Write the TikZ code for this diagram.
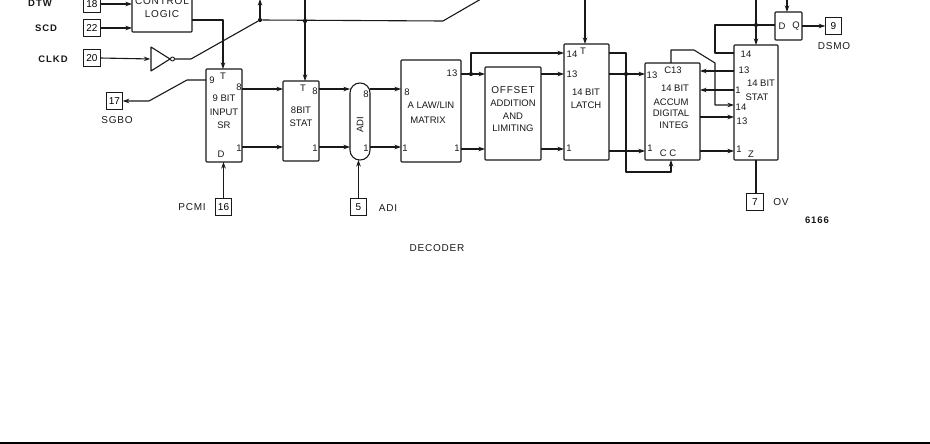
\documentclass[tikz,border=0pt]{standalone}
\usepackage{fontspec}
\setmainfont{Liberation Sans}
\usetikzlibrary{arrows.meta}
\newcounter{lc}
\newcommand{\lab}[4][lbl]{\stepcounter{lc}\node[#1] (t\arabic{lc}) at (#2,#3) {#4};}
\newcommand{\blk}[5]{\node[blockbox,minimum width=#4-#2,minimum height=#5-#3] (#1) at ({(#2+#4)/2},{(#3+#5)/2}) {};}
\newcommand{\pin}[4]{\node[pinbox] (#1) at (#2,#3) {#4};}
\tikzset{
  x=1pt,y=-1pt,
  blockbox/.style={draw=black!90,line width=1.1pt,inner sep=0pt,outer sep=0pt,rounded corners=0.8pt},
  pinbox/.style={draw=black!90,line width=1.2pt,inner sep=0pt,outer sep=0pt,minimum width=16.5pt,minimum height=16.5pt,font=\fontsize{10}{10}\selectfont},
  lbl/.style={inner sep=0pt,outer sep=0pt,text=black!90,font=\fontsize{9.5}{10}\selectfont},
  big/.style={lbl,font=\fontsize{10}{10}\selectfont\addfontfeature{LetterSpace=8}},
  bold/.style={lbl,font=\fontsize{9.5}{10}\selectfont\bfseries\addfontfeature{LetterSpace=10}},
  wire/.style={draw=black!90,line width=1.1pt,line join=round},
  tip/.style={wire,-{Stealth[length=6.5pt,width=4.5pt]}},
  jn/.style={circle,fill=black!90,inner sep=0pt,minimum size=4.2pt},
}
\begin{document}
\begin{tikzpicture}
\useasboundingbox (0,0) rectangle (930,444);
\fill[white] (0,0) rectangle (930,444);
% rows
\coordinate (r8) at (0,89);
\coordinate (r1) at (0,147);
\coordinate (rA) at (0,74);
\coordinate (rB) at (0,149);
\coordinate (rC) at (0,151);
% pins
\pin{p18}{92}{4}{18}
\pin{p22}{92}{28}{22}
\pin{p20}{92}{58}{20}
\pin{p17}{114.5}{101}{17}
\pin{p16}{223.5}{207}{16}
\pin{p5}{358.5}{207}{5}
\pin{p9}{833.5}{26}{9}
\pin{p7}{755}{202}{7}
% blocks
\blk{ctl}{132}{-30}{192}{32}
\blk{sr}{206}{69}{242}{162}
\blk{st}{283}{81}{319}{161}
\node[blockbox,rounded corners=9.9pt,minimum width=20pt,minimum height=77pt] (adi) at (360,121.5) {};
\blk{mx}{401}{60}{461}{162}
\blk{off}{485}{67}{541}{160}
\blk{lat}{564}{44}{609}{160}
\blk{acc}{645}{63}{700}{160}
\blk{sta}{734}{45}{778}{160}
\blk{dq}{775}{12}{802}{40}
% inverter
\node[inner sep=0pt] (invw) at (151,59) {};
\draw[wire,fill=white] (151,47) -- (170,59) -- (151,71) -- cycle;
\node[draw=black!90,line width=0.9pt,circle,inner sep=0pt,minimum size=4pt,fill=white] (bub) at (172.5,59) {};
% junctions and bends
\coordinate (b1) at (191,59);
\node[jn] (j1) at (260,20) {};
\node[jn] (j2) at (305,21) {};
\coordinate (b2) at (443,21);
\coordinate (b3) at (481,-1);
\node[jn] (j3) at (471,74) {};
\node[jn] (j4) at (626,74) {};
\node[jn] (j5) at (756,25) {};
% connectors
\draw[tip] (p18.east |- 0,4) -- (ctl.west |- 0,4);
\draw[tip] (p22.east) -- (ctl.west |- p22);
\draw[tip] (p20.east) -- (invw);
\draw[wire] (bub.east) -- (b1) -- (j1) -- (b2) -- (b3);
\draw[tip] (j1) -- (260,-1);
\draw[tip] (ctl.east |- 0,20) -- (223,20) -- (sr.north -| 223,0);
\draw[tip] (305,-1) -- (st.north -| 305,0);
\draw[tip] (sr.west |- 0,80) -- (187,80) -- (149,101) -- (p17.east);
\draw[tip] (p16.north) -- (sr.south -| p16);
\draw[tip] (p5.north) -- (adi.south -| p5);
\draw[tip] (sr.east |- r8) -- (st.west |- r8);
\draw[tip] (sr.east |- r1) -- (st.west |- r1);
\draw[tip] (st.east |- r8) -- (adi.west |- r8);
\draw[tip] (st.east |- r1) -- (adi.west |- r1);
\draw[tip] (adi.east |- r8) -- (mx.west |- r8);
\draw[tip] (adi.east |- r1) -- (mx.west |- r1);
\draw[tip] (mx.east |- rA) -- (off.west |- rA);
\draw[tip] (mx.east |- rB) -- (off.west |- rB);
\draw[tip] (j3) -- (471,53) -- (lat.west |- 0,53);
\draw[tip] (off.east |- rA) -- (lat.west |- rA);
\draw[tip] (off.east |- rB) -- (lat.west |- rB);
\draw[tip] (585,-1) -- (lat.north -| 585,0);
\draw[tip] (lat.east |- rA) -- (acc.west |- rA);
\draw[tip] (lat.east |- rC) -- (acc.west |- rC);
\draw[tip] (lat.east |- 0,53) -- (626,53) -- (626,172) -- (671,172) -- (acc.south -| 671,0);
\draw[tip] (acc.north -| 671,0) -- (671,50) -- (694,50) -- (715,63) -- (715,105) -- (sta.west |- 0,105);
\draw[tip] (sta.west |- 0,71) -- (acc.east |- 0,71);
\draw[tip] (sta.west |- 0,90) -- (acc.east |- 0,90);
\draw[tip] (acc.east |- 0,117) -- (sta.west |- 0,117);
\draw[tip] (acc.east |- rC) -- (sta.west |- rC);
\draw[wire] (sta.west |- 0,53) -- (715,53) -- (715,25) -- (dq.west |- 0,25);
\draw[tip] (756,-1) -- (sta.north -| 756,0);
\draw[tip] (787,-1) -- (dq.north -| 787,0);
\draw[tip] (dq.east |- p9) -- (p9.west);
\draw[wire] (sta.south -| 756,0) -- (p7.north -| 756,0);
% block texts
\lab[big]{162}{1}{CONTROL}
\lab[big]{162}{14}{LOGIC}
\lab[bold]{40}{3}{DTW}
\lab[bold]{46}{28}{SCD}
\lab[bold]{53}{59}{CLKD}
\lab[big]{117}{120}{SGBO}
\lab[big]{192}{207}{PCMI}
\lab[big]{388}{208}{ADI}
\lab[big]{834}{46}{DSMO}
\lab[big]{781}{202}{OV}
\lab[bold]{817}{220}{6166}
\lab[big]{437}{248}{DECODER}
\lab{212}{80}{9}
\lab{223}{76}{T}
\lab{239}{87}{8}
\lab{224}{98}{9 BIT}
\lab{224}{112}{INPUT}
\lab{224}{125}{SR}
\lab{239}{148}{1}
\lab{221}{154}{D}
\lab{303}{88}{T}
\lab{315}{91}{8}
\lab{301}{110}{8BIT}
\lab{301}{123}{STAT}
\lab{315}{148}{1}
\lab{366}{94}{8}
\lab{366}{148}{1}
\lab[lbl,rotate=90]{360}{125}{ADI}
\lab{407}{92}{8}
\lab{431}{105}{A LAW/LIN}
\lab{428}{120}{MATRIX}
\lab{405}{148}{1}
\lab{452}{73}{13}
\lab{457}{148}{1}
\lab[big]{513}{90}{OFFSET}
\lab{513}{103}{ADDITION}
\lab{513}{116}{AND}
\lab{513}{128}{LIMITING}
\lab{572}{54}{14}
\lab{583}{51}{T}
\lab{572}{74}{13}
\lab{586}{92}{14 BIT}
\lab{586}{105}{LATCH}
\lab{569}{148}{1}
\lab{652}{75}{13}
\lab{673}{70}{C13}
\lab{675}{88}{14 BIT}
\lab{671}{102}{ACCUM}
\lab{671}{113}{DIGITAL}
\lab{674}{125}{INTEG}
\lab{650}{148}{1}
\lab{668}{153}{C C}
\lab{746}{54}{14}
\lab{744}{70}{13}
\lab{738}{90}{1}
\lab{761}{83}{14 BIT}
\lab{757}{97}{STAT}
\lab{741}{107}{14}
\lab{742}{121}{13}
\lab{739}{149}{1}
\lab{751}{154}{Z}
\lab{782}{26}{D}
\lab{796}{26}{Q}
% bottom rule
\draw[black,line width=2pt] (0,443) -- (930,443);
\end{tikzpicture}
\end{document}
